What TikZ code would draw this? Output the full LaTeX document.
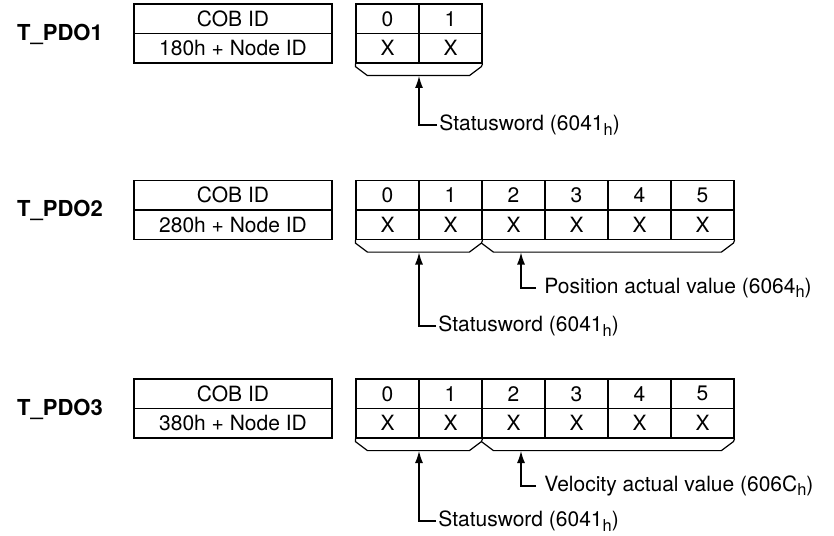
\documentclass[tikz,border=0pt]{standalone}
\usepackage{fontspec}
\setmainfont{TeX Gyre Heros}
\usetikzlibrary{arrows.meta}
\newcommand{\hsub}{\raisebox{-0.4ex}{\fontsize{8.2}{9}\selectfont h}}
\tikzset{
  cell/.style={draw,line width=0.6pt,minimum width=31.5pt,minimum height=14.75pt,
    inner sep=0pt,font=\fontsize{10.5}{12.6}\selectfont},
  cobcell/.style={cell,minimum width=99pt},
  pdolabel/.style={anchor=base,inner sep=0pt,font=\fontsize{11}{13}\selectfont\bfseries},
  reflabel/.style={anchor=west,inner sep=1pt,font=\fontsize{10.5}{12.6}\selectfont},
  bracket/.style={line width=0.6pt},
  ptr/.style={line width=0.6pt,-{Latex[length=6pt,width=4pt]}}
}

\begin{document}
\begin{tikzpicture}[x=0.5pt,y=-0.5pt]
  \useasboundingbox (0,0) rectangle (834,535);

  % T_PDO1
  \node[pdolabel] (pdo1) at (60,40.2) {T\_PDO1};
  \node[cobcell] (cob1) at (233,18.75) {COB ID};
  \node[cobcell] (id1) at (233,48.25) {180h + Node ID};
  \foreach \i in {0,1} {
    \node[cell] (b1-\i) at ({387.5+63*\i},18.75) {\i};
    \node[cell] (x1-\i) at ({387.5+63*\i},48.25) {X};
  }
  \draw[bracket] (x1-0.south west) -- ++(0,3) -- ++(12,9) -- ++(102,0) -- ++(12,-9) -- (x1-1.south east);
  \coordinate (t1) at (419,76);
  \node[reflabel] (s1) at (437,125) {Statusword (6041\hsub)};
  \draw[ptr] (s1.west) -| (t1);

  % T_PDO2
  \node[pdolabel] (pdo2) at (60,216.7) {T\_PDO2};
  \node[cobcell] (cob2) at (233,195.25) {COB ID};
  \node[cobcell] (id2) at (233,224.75) {280h + Node ID};
  \foreach \i in {0,...,5} {
    \node[cell] (b2-\i) at ({387.5+63*\i},195.25) {\i};
    \node[cell] (x2-\i) at ({387.5+63*\i},224.75) {X};
  }
  \draw[bracket] (x2-0.south west) -- ++(0,3) -- ++(12,9) -- ++(102,0) -- ++(12,-9) -- (x2-1.south east);
  \draw[bracket] (x2-2.south west) ++(0,3) -- ++(12,9) -- ++(228,0) -- ++(12,-9) -- (x2-5.south east);
  \coordinate (t2a) at (419,252.5);
  \coordinate (t2b) at (521,252.5);
  \node[reflabel,inner xsep=4pt] (p2) at (536,288) {Position actual value (6064\hsub)};
  \node[reflabel] (s2) at (436,326) {Statusword (6041\hsub)};
  \draw[ptr] (p2.west) -| (t2b);
  \draw[ptr] (s2.west) -| (t2a);

  % T_PDO3
  \node[pdolabel] (pdo3) at (60,415.2) {T\_PDO3};
  \node[cobcell] (cob3) at (233,393.75) {COB ID};
  \node[cobcell] (id3) at (233,423.25) {380h + Node ID};
  \foreach \i in {0,...,5} {
    \node[cell] (b3-\i) at ({387.5+63*\i},393.75) {\i};
    \node[cell] (x3-\i) at ({387.5+63*\i},423.25) {X};
  }
  \draw[bracket] (x3-0.south west) -- ++(0,3) -- ++(12,9) -- ++(102,0) -- ++(12,-9) -- (x3-1.south east);
  \draw[bracket] (x3-2.south west) ++(0,3) -- ++(12,9) -- ++(228,0) -- ++(12,-9) -- (x3-5.south east);
  \coordinate (t3a) at (419,451);
  \coordinate (t3b) at (521,451);
  \node[reflabel,inner xsep=4pt] (v3) at (536,486) {Velocity actual value (606C\hsub)};
  \node[reflabel] (s3) at (436,521) {Statusword (6041\hsub)};
  \draw[ptr] (v3.west) -| (t3b);
  \draw[ptr] (s3.west) -| (t3a);
\end{tikzpicture}
\end{document}
